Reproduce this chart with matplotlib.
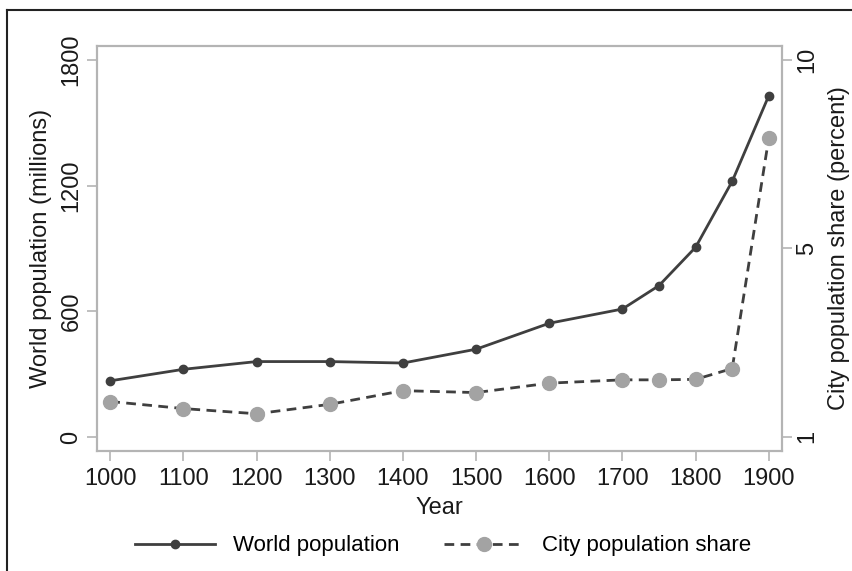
import numpy as np
import matplotlib
matplotlib.use("Agg")
import matplotlib.pyplot as plt
from matplotlib.lines import Line2D

plt.rcParams["font.family"] = ["Liberation Sans", "DejaVu Sans"]

# data
years = [1000, 1100, 1200, 1300, 1400, 1500, 1600, 1700, 1750, 1800, 1850, 1900]
world_pop = [268, 323, 360, 360, 353, 419, 543, 611, 723, 906, 1221, 1630]
city_share = [1.75, 1.60, 1.49, 1.69, 1.98, 1.94, 2.14, 2.21, 2.21, 2.22, 2.45, 7.93]

left_ticks = [0, 600, 1200, 1800]
right_ticks = [1, 5, 10]
year_ticks = [1000, 1100, 1200, 1300, 1400, 1500, 1600, 1700, 1800, 1900]

dark = "#3f3f3f"
light = "#a3a3a3"
frame = "#b4b4b4"
txt = "#1a1a1a"

# right axis: 1, 5 and 10 are evenly spaced
knots_v = [0, 1, 5, 10, 20]
knots_t = [-0.125, 0, 0.5, 1, 2]
def fwd(v):
    return np.interp(v, knots_v, knots_t)
def inv(t):
    return np.interp(t, knots_t, knots_v)

fig = plt.figure(figsize=(8.52, 5.71), dpi=100)
ax = fig.add_axes([0.1139, 0.2102, 0.8039, 0.7092])
ax2 = ax.twinx()

l1, = ax.plot(years, world_pop, color=dark, lw=2, marker="o", ms=6,
              mfc=dark, mec=dark, label="World population", zorder=3)
l2, = ax2.plot(years, city_share, color=dark, lw=2, ls=(0, (3.5, 2.3)), marker="o",
               ms=10, mfc=light, mec=light, label="City population share", zorder=3)

ax.set_xlim(982, 1918)
ax.set_ylim(-67, 1867)
ax2.set_yscale("function", functions=(fwd, inv))
ax2.set_ylim(0.70, 10.37)

ax.set_xticks(year_ticks)
ax.set_yticks(left_ticks)
ax2.set_yticks(right_ticks)
ax2.set_yticklabels([str(t) for t in right_ticks])
ax2.yaxis.set_minor_locator(matplotlib.ticker.NullLocator())

for a in (ax, ax2):
    for s in a.spines.values():
        s.set_color(frame)
        s.set_linewidth(1.5)
    a.tick_params(colors=frame, labelcolor=txt, length=7, width=1.2, labelsize=17)
ax.tick_params(axis="x", pad=5)
ax.tick_params(axis="y", labelrotation=90)
ax2.tick_params(axis="y", labelrotation=90)
for lab in ax.get_yticklabels() + ax2.get_yticklabels():
    lab.set_va("center")

ax.set_xlabel("Year", fontsize=17, color=txt, labelpad=5)
ax.set_ylabel("World population (millions)", fontsize=17, color=txt, labelpad=6)
ax2.set_ylabel("City population share (percent)", fontsize=17, color=txt,
               rotation=90, labelpad=7)

fig.legend(handles=[l1, l2], loc="center", bbox_to_anchor=(0.52, 0.044), ncol=2,
           frameon=False, fontsize=16, handlelength=3.6, columnspacing=2.0,
           handletextpad=0.8)

# outer border (left and top)
fig.add_artist(Line2D([0.0082, 0.0082], [0, 0.9825], transform=fig.transFigure,
                      color="#222222", lw=1.5))
fig.add_artist(Line2D([0.0082, 1], [0.9825, 0.9825], transform=fig.transFigure,
                      color="#222222", lw=1.5))

fig.savefig("out.png", dpi=100)
